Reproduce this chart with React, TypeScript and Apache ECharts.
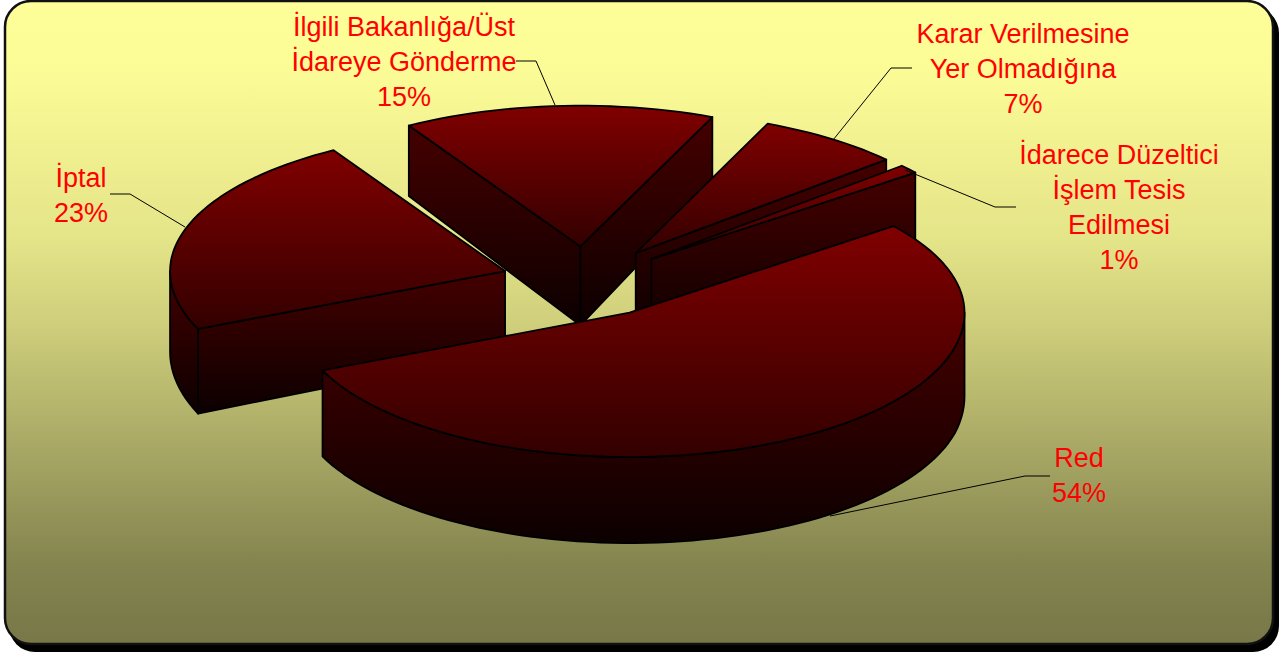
import React, { useEffect, useRef } from "react";
import * as echarts from "echarts";

const sliceNames = ["Red", "İptal", "İlgili Bakanlığa/Üst\nİdareye Gönderme", "Karar Verilmesine\nYer Olmadığına", "İdarece Düzeltici\nİşlem Tesis\nEdilmesi"];
const sliceValues = [54, 23, 15, 7, 1];
// Painter's order: back slices first, the large front slice last.
const drawOrder = [2, 3, 4, 1, 0];

const PIE = { cx: 586, cy: 282, r: 335, tiltBack: 0.42, tiltFront: 0.431, explodeTilt: 0.42, explode: 85, startDeg: 52 };
const labelCenters = [
  [1079, 475],
  [81, 195],
  [404, 62],
  [1023, 69],
  [1119, 207],
];
const leaderLines = [
  [[1050, 476], [1025, 476], [830, 516]],
  [[110, 194], [130, 194], [185, 227]],
  [[516, 61], [536, 61], [555, 105]],
  [[912, 68], [891, 68], [833, 140]],
  [[1016, 207], [995, 207], [905, 170]],
];

const grad = (a: string, b: string) => ({
  type: "linear", x: 0, y: 0, x2: 0, y2: 1,
  colorStops: [{ offset: 0, color: a }, { offset: 1, color: b }],
});
const TOP_FILL = grad("#800000", "#330000");
const WALL_FILL = grad("#450000", "#0c0000");
const EDGE = { stroke: "#000", lineWidth: 1.8, lineJoin: "round" as const };

// Slight perspective: the wall is a little taller nearer the viewer.
const wallHeight = (y: number) => Math.min(86, 79 + (y - 247) * 0.07);

function sliceAngles(index: number) {
  const total = sliceValues.reduce((s, v) => s + v, 0);
  const before = sliceValues.slice(0, index).reduce((s, v) => s + v, 0);
  const a0 = PIE.startDeg + (before / total) * 360;
  return [a0, a0 + (sliceValues[index] / total) * 360];
}

function renderSlice(_params: any, api: any) {
  const index = api.value(0);
  const [a0, a1] = sliceAngles(index);
  const mid = (((a0 + a1) / 2) * Math.PI) / 180;
  const ox = PIE.cx + PIE.explode * Math.sin(mid);
  const oy = PIE.cy - PIE.explode * Math.cos(mid) * PIE.explodeTilt;
  const rim = (deg: number) => {
    const t = (deg * Math.PI) / 180;
    const c = Math.cos(t);
    return [ox + PIE.r * Math.sin(t), oy - PIE.r * c * (c > 0 ? PIE.tiltBack : PIE.tiltFront)];
  };
  const below = (p: number[]) => [p[0], p[1] + wallHeight(p[1])];
  const arc = (from: number, to: number) => {
    const pts: number[][] = [];
    const n = Math.max(2, Math.ceil((to - from) / 2));
    for (let i = 0; i <= n; i++) pts.push(rim(from + ((to - from) * i) / n));
    return pts;
  };
  const poly = (points: number[][], fill: any) => ({
    type: "polygon", shape: { points }, style: { fill, ...EDGE }, silent: true,
  });
  const radialWall = (deg: number) =>
    poly([[ox, oy], rim(deg), below(rim(deg)), below([ox, oy])], WALL_FILL);
  const sin = (deg: number) => Math.sin((deg * Math.PI) / 180);

  const children: any[] = [];
  // A cut face shows only when its outward side turns towards the viewer.
  if (sin(a0) < 0) children.push(radialWall(a0));
  if (sin(a1) > 0) children.push(radialWall(a1));
  // Outer wall only where the rim faces the viewer (90..270 degrees clockwise from the back).
  const from = Math.max(a0, 90);
  const to = Math.min(a1, 270);
  if (to > from) {
    const upper = arc(from, to);
    children.push(poly([...upper, ...upper.map(below).reverse()], WALL_FILL));
  }
  children.push(poly([[ox, oy], ...arc(a0, a1)], TOP_FILL));
  return { type: "group", children };
}

export default function App() {
  const ref = useRef<HTMLDivElement>(null);
  useEffect(() => {
    const chart = echarts.init(ref.current!, undefined, { renderer: "svg" });
    const font = '27px "Liberation Sans", Arial, sans-serif';
    chart.setOption({
      animation: false,
      backgroundColor: "#fff",
      graphic: [
        { type: "rect", z: -10, silent: true, shape: { x: 9, y: 7, width: 1270, height: 645, r: 26 }, style: { fill: "#000" } },
        {
          type: "rect", z: -9, silent: true,
          shape: { x: 5, y: 1, width: 1268, height: 643, r: 26 },
          style: {
            fill: {
              type: "linear", x: 0, y: 0, x2: 0, y2: 1,
              colorStops: [
                { offset: 0, color: "#ffff99" },
                { offset: 0.1, color: "#fcfc97" },
                { offset: 0.37, color: "#e4e489" },
                { offset: 0.5, color: "#cfcf7c" },
                { offset: 0.87, color: "#858550" },
                { offset: 1, color: "#777748" },
              ],
            },
            stroke: "#111", lineWidth: 2.5,
          },
        },
        ...leaderLines.map((points) => ({
          type: "polyline", z: 5, silent: true, shape: { points },
          style: { fill: "none", stroke: "#000", lineWidth: 1 },
        })),
        ...sliceNames.map((name, i) => ({
          type: "text", z: 6, silent: true, x: labelCenters[i][0], y: labelCenters[i][1],
          style: {
            text: `${name}\n${sliceValues[i]}%`, font, fill: "#ff0000",
            align: "center", verticalAlign: "middle", lineHeight: 35,
          },
        })),
      ],
      series: [
        {
          type: "custom",
          coordinateSystem: "none",
          silent: true,
          renderItem: renderSlice,
          data: drawOrder.map((i) => [i, sliceValues[i], sliceNames[i]]),
        },
      ],
    });
    return () => chart.dispose();
  }, []);
  return <div ref={ref} style={{ position: "fixed", left: 0, top: 0, width: 1280, height: 655 }} />;
}
